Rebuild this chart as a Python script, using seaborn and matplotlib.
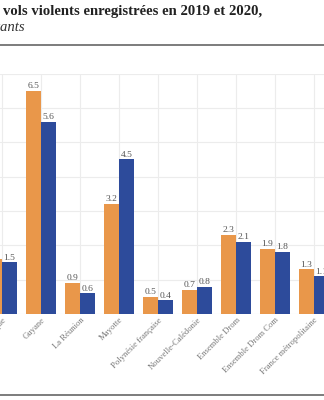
import matplotlib
matplotlib.use("Agg")
import matplotlib.pyplot as plt
import seaborn as sns
import pandas as pd
from matplotlib.lines import Line2D

categories = ["Martinique", "Guyane", "La Réunion", "Mayotte", "Polynésie française",
              "Nouvelle-Calédonie", "Ensemble Drom", "Ensemble Drom Com", "France métropolitaine"]
years = ["2019", "2020"]
values_2019 = [1.6, 6.5, 0.9, 3.2, 0.5, 0.7, 2.3, 1.9, 1.3]
values_2020 = [1.5, 5.6, 0.6, 4.5, 0.4, 0.8, 2.1, 1.8, 1.1]
title_line1 = "vols violents enregistrées en 2019 et 2020,"
title_line2 = "pour 1 000 habitants"

colors = {"2019": "#E9974A", "2020": "#2D4B9B"}

df = pd.DataFrame({
    "categorie": categories * 2,
    "annee": [years[0]] * len(categories) + [years[1]] * len(categories),
    "valeur": values_2019 + values_2020,
})

sns.set_theme(style="white")
plt.rcParams["font.family"] = ["Liberation Serif", "DejaVu Serif"]

W, H = 324, 400
fig = plt.figure(figsize=(W / 100, H / 100), dpi=100)
base_y = 314
top_y = 73.5
ax = fig.add_axes([0, (H - base_y) / H, 1, (base_y - top_y) / H])

sns.barplot(data=df, x="categorie", y="valeur", hue="annee", hue_order=years,
            order=categories, palette=colors, width=0.77, saturation=1,
            linewidth=0, edgecolor="none", ax=ax, legend=False, zorder=3)

spacing = 39.0
ax.set_xlim(-2 / spacing, (W - 2) / spacing)
ax.set_ylim(0, 7)
ax.set_yticks(range(0, 8))
ax.set_yticklabels([])
ax.tick_params(axis="y", length=0)
ax.grid(True, color="#ececec", linewidth=0.8, zorder=0)
ax.set_axisbelow(True)
for s in ax.spines.values():
    s.set_visible(False)
ax.set_xlabel("")
ax.set_ylabel("")

for c in ax.containers:
    ax.bar_label(c, fmt="%.1f", fontsize=6.8, color="#555555", padding=0.5)

ax.tick_params(axis="x", length=0, pad=1.5)
for lab in ax.get_xticklabels():
    lab.set_rotation(45)
    lab.set_ha("right")
    lab.set_va("top")
    lab.set_rotation_mode("anchor")
    lab.set_fontsize(6.2)
    lab.set_color("#7a7a7a")

fig.text(3 / W, 1 - 15 / H, title_line1, fontsize=10.6, fontweight="bold",
         color="#222222", ha="left", va="baseline")
fig.text(25 / W, 1 - 31 / H, title_line2, fontsize=10.6, style="italic",
         color="#333333", ha="right", va="baseline")

fig.add_artist(Line2D([0, 1], [1 - 45 / H, 1 - 45 / H], color="#666666", linewidth=1.2))
fig.add_artist(Line2D([0, 1], [1 - 395 / H, 1 - 395 / H], color="#666666", linewidth=1.2))

fig.savefig("out.png", dpi=100)
